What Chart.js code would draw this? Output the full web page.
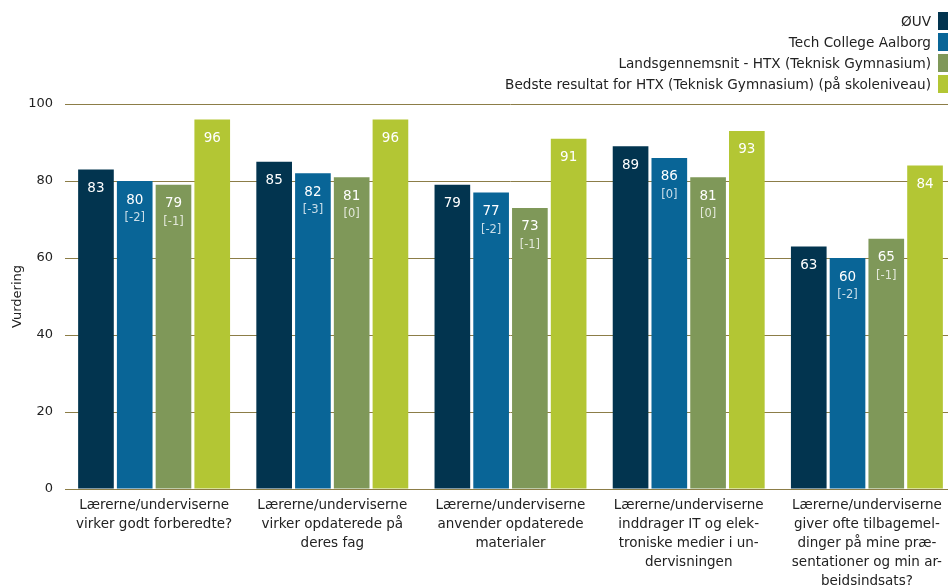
<!DOCTYPE html>
<html>
<head>
<meta charset="utf-8">
<script src="https://cdn.jsdelivr.net/npm/chart.js@4.4.1/dist/chart.umd.min.js"></script>
<style>
  html, body { margin: 0; padding: 0; width: 948px; height: 587px; overflow: hidden; background: #fff; }
  #chart { position: absolute; left: 0; top: 0; }
  #legend { position: absolute; right: 0; top: 12px; font: 13.6px "DejaVu Sans", sans-serif; color: #222; }
  .item { display: flex; justify-content: flex-end; align-items: center; height: 18px; margin-bottom: 3px; }
  .box { width: 10px; height: 18px; margin-left: 7px; }
</style>
</head>
<body>
<canvas id="chart" width="956" height="587"></canvas>
<div id="legend"></div>
<script>
// Data
const categories = [
  ["Lærerne/underviserne", "virker godt forberedte?"],
  ["Lærerne/underviserne", "virker opdaterede på", "deres fag"],
  ["Lærerne/underviserne", "anvender opdaterede", "materialer"],
  ["Lærerne/underviserne", "inddrager IT og elek-", "troniske medier i un-", "dervisningen"],
  ["Lærerne/underviserne", "giver ofte tilbagemel-", "dinger på mine præ-", "sentationer og min ar-", "beidsindsats?"]
];
const seriesNames = [
  "ØUV",
  "Tech College Aalborg",
  "Landsgennemsnit - HTX (Teknisk Gymnasium)",
  "Bedste resultat for HTX (Teknisk Gymnasium) (på skoleniveau)"
];
const ouvValues = [83, 85, 79, 89, 63];
const tcaValues = [80, 82, 77, 86, 60];
const tcaDiffs = [-2, -3, -2, 0, -2];
const landsValues = [79, 81, 73, 81, 65];
const landsDiffs = [-1, 0, -1, 0, -1];
const bestValues = [96, 96, 91, 93, 84];

const colors = ["#02344f", "#096597", "#7f9859", "#b3c634"];
const gridColor = "#8c7d47";
const font = '"DejaVu Sans", sans-serif';

// Labels inside the bars (value and difference in brackets)
const barLabels = {
  id: "barLabels",
  afterDatasetsDraw(chart) {
    const ctx = chart.ctx;
    ctx.save();
    ctx.textAlign = "center";
    ctx.textBaseline = "middle";
    chart.data.datasets.forEach((ds, i) => {
      chart.getDatasetMeta(i).data.forEach((bar, j) => {
        ctx.fillStyle = "#fff";
        ctx.font = "13.5px " + font;
        ctx.fillText(String(ds.data[j]), bar.x, bar.y + 19);
        if (ds.diffs) {
          ctx.fillStyle = "rgba(255,255,255,0.78)";
          ctx.font = "11.5px " + font;
          ctx.fillText("[" + ds.diffs[j] + "]", bar.x, bar.y + 37);
        }
      });
    });
    ctx.restore();
  }
};

const datasets = [
  { label: seriesNames[0], data: ouvValues },
  { label: seriesNames[1], data: tcaValues, diffs: tcaDiffs },
  { label: seriesNames[2], data: landsValues, diffs: landsDiffs },
  { label: seriesNames[3], data: bestValues }
].map((ds, i) => ({
  ...ds,
  backgroundColor: colors[i],
  borderWidth: 0,
  barPercentage: 0.92,
  categoryPercentage: 0.87
}));

new Chart(document.getElementById("chart"), {
  type: "bar",
  data: { labels: categories, datasets },
  options: {
    responsive: false,
    animation: false,
    devicePixelRatio: 1,
    layout: { padding: { top: 104, left: 0, right: 0, bottom: 0 } },
    plugins: {
      legend: { display: false },
      tooltip: { enabled: false }
    },
    scales: {
      x: {
        grid: { display: false, drawTicks: false },
        border: { display: true, color: gridColor, width: 1 },
        ticks: {
          color: "#222",
          font: { family: font, size: 13.5, lineHeight: 1.41 },
          padding: 7,
          maxRotation: 0,
          autoSkip: false
        },
        afterFit(scale) { scale.height = 98; }
      },
      y: {
        min: 0,
        max: 100,
        border: { display: false },
        grid: { color: gridColor, drawTicks: false },
        ticks: {
          stepSize: 20,
          color: "#222",
          font: { family: font, size: 13 },
          padding: 12
        },
        title: {
          display: true,
          text: "Vurdering",
          color: "#222",
          font: { family: font, size: 13 },
          padding: { top: 10, bottom: 0 }
        },
        afterFit(scale) { scale.width = 65; }
      }
    }
  },
  plugins: [barLabels]
});

// Legend, text left of the colour box
const legend = document.getElementById("legend");
seriesNames.forEach((name, i) => {
  const item = document.createElement("div");
  item.className = "item";
  item.innerHTML = `<span>${name}</span><span class="box" style="background:${colors[i]}"></span>`;
  legend.appendChild(item);
});
</script>
</body>
</html>
